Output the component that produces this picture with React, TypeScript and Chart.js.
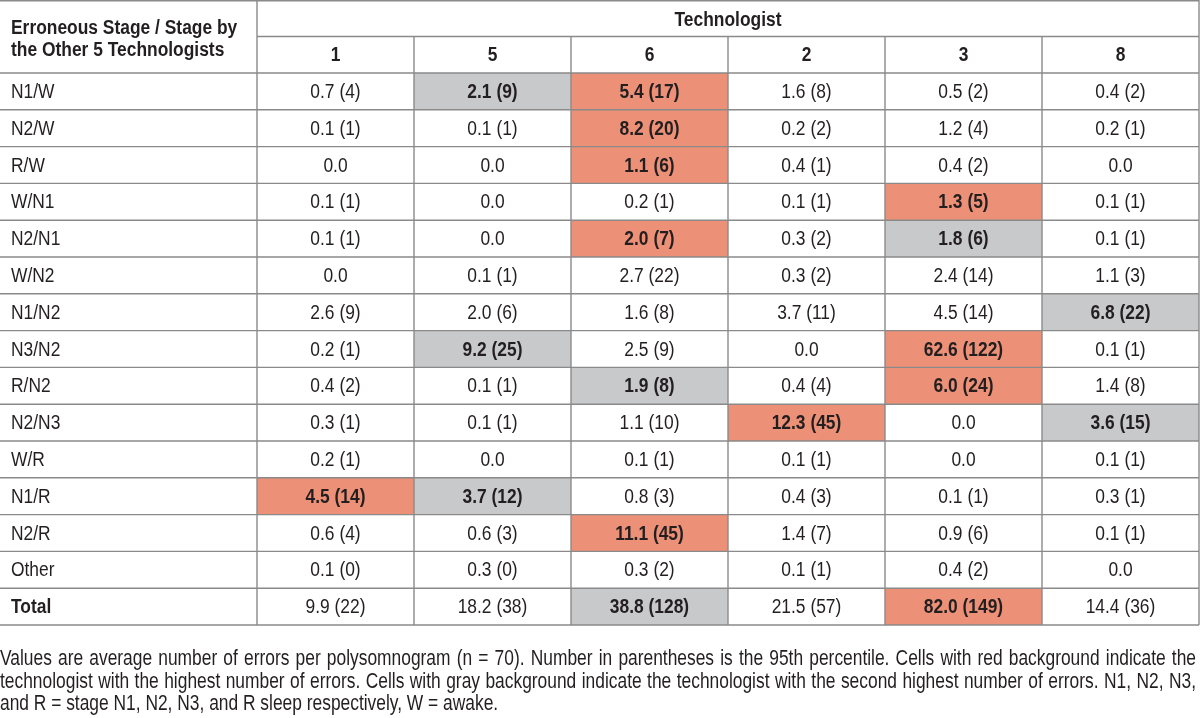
import React, { useEffect, useRef } from "react";
import { Chart, registerables } from "chart.js";

Chart.register(...registerables);

// ---- data ----
const technologists = ["1", "5", "6", "2", "3", "8"];
const stages = [
  "N1/W", "N2/W", "R/W", "W/N1", "N2/N1", "W/N2", "N1/N2", "N3/N2",
  "R/N2", "N2/N3", "W/R", "N1/R", "N2/R", "Other", "Total",
];
const headerTitle = "Technologist";
const stageHeader = ["Erroneous Stage / Stage by", "the Other 5 Technologists"];

// average number of errors per polysomnogram (rows in stage order)
const tech1Mean = [0.7, 0.1, 0.0, 0.1, 0.1, 0.0, 2.6, 0.2, 0.4, 0.3, 0.2, 4.5, 0.6, 0.1, 9.9];
const tech5Mean = [2.1, 0.1, 0.0, 0.0, 0.0, 0.1, 2.0, 9.2, 0.1, 0.1, 0.0, 3.7, 0.6, 0.3, 18.2];
const tech6Mean = [5.4, 8.2, 1.1, 0.2, 2.0, 2.7, 1.6, 2.5, 1.9, 1.1, 0.1, 0.8, 11.1, 0.3, 38.8];
const tech2Mean = [1.6, 0.2, 0.4, 0.1, 0.3, 0.3, 3.7, 0.0, 0.4, 12.3, 0.1, 0.4, 1.4, 0.1, 21.5];
const tech3Mean = [0.5, 1.2, 0.4, 1.3, 1.8, 2.4, 4.5, 62.6, 6.0, 0.0, 0.0, 0.1, 0.9, 0.4, 82.0];
const tech8Mean = [0.4, 0.2, 0.0, 0.1, 0.1, 1.1, 6.8, 0.1, 1.4, 3.6, 0.1, 0.3, 0.1, 0.0, 14.4];

// 95th percentile (null = not shown)
const tech1P95 = [4, 1, null, 1, 1, null, 9, 1, 2, 1, 1, 14, 4, 0, 22];
const tech5P95 = [9, 1, null, null, null, 1, 6, 25, 1, 1, null, 12, 3, 0, 38];
const tech6P95 = [17, 20, 6, 1, 7, 22, 8, 9, 8, 10, 1, 3, 45, 2, 128];
const tech2P95 = [8, 2, 1, 1, 2, 2, 11, null, 4, 45, 1, 3, 7, 1, 57];
const tech3P95 = [2, 4, 2, 5, 6, 14, 14, 122, 24, null, null, 1, 6, 2, 149];
const tech8P95 = [2, 1, null, 1, 1, 3, 22, 1, 8, 15, 1, 1, 1, null, 36];

// highlighted cells: [stage, technologist]
const highestCells: [string, string][] = [
  ["N1/W", "6"], ["N2/W", "6"], ["R/W", "6"], ["W/N1", "3"], ["N2/N1", "6"],
  ["N3/N2", "3"], ["R/N2", "3"], ["N2/N3", "2"], ["N1/R", "1"], ["N2/R", "6"], ["Total", "3"],
];
const secondCells: [string, string][] = [
  ["N1/W", "5"], ["N2/N1", "3"], ["N1/N2", "8"], ["N3/N2", "5"], ["R/N2", "6"],
  ["N2/N3", "8"], ["N1/R", "5"], ["Total", "6"],
];

const footnoteLines = [
  "Values are average number of errors per polysomnogram (n = 70). Number in parentheses is the 95th percentile. Cells with red background indicate the",
  "technologist with the highest number of errors. Cells with gray background indicate the technologist with the second highest number of errors. N1, N2, N3,",
  "and R = stage N1, N2, N3, and R sleep respectively, W = awake.",
];

const means = [tech1Mean, tech5Mean, tech6Mean, tech2Mean, tech3Mean, tech8Mean];
const p95s = [tech1P95, tech5P95, tech6P95, tech2P95, tech3P95, tech8P95];

// ---- styles ----
const RED = "#EC9177";
const GRAY = "#C8C9CB";
const LINE = "#8a8a8a";
const TEXT = "#231F20";
const FONT_SIZE = 20;
const NOTE_SIZE = 22;

function pickFont(ctx: CanvasRenderingContext2D) {
  const s = "Technologist abc 0123 (45)";
  ctx.font = `${FONT_SIZE}px serif`;
  const a = ctx.measureText(s).width;
  ctx.font = `${FONT_SIZE}px 'Liberation Sans Narrow', serif`;
  const b = ctx.measureText(s).width;
  if (Math.abs(a - b) > 0.5) return { family: "'Liberation Sans Narrow'", sx: 1.065, nsx: 0.96 };
  return { family: "'Liberation Sans'", sx: 0.87, nsx: 0.79 };
}

const tablePlugin = {
  id: "tablePlugin",
  afterDraw(chart: any) {
    const ctx: CanvasRenderingContext2D = chart.ctx;
    const xs = chart.scales.x;
    const ys = chart.scales.y;
    const area = chart.chartArea;
    const font = pickFont(ctx);
    const colW = (area.right - area.left) / technologists.length;
    const rowH = (area.bottom - area.top) / stages.length;
    const headerMid = area.top / 2;

    const setFont = (bold: boolean, size: number) => {
      ctx.font = `${bold ? "bold " : ""}${size}px ${font.family}, sans-serif`;
    };

    const text = (
      t: string, x: number, y: number, align: CanvasTextAlign, bold: boolean,
      size = FONT_SIZE, sx = font.sx,
    ) => {
      ctx.save();
      setFont(bold, size);
      ctx.fillStyle = TEXT;
      ctx.textAlign = align;
      ctx.textBaseline = "middle";
      ctx.translate(x, y);
      ctx.scale(sx, 1);
      ctx.fillText(t, 0, 0);
      ctx.restore();
    };

    const justified = (t: string, x0: number, x1: number, y: number) => {
      const words = t.split(" ");
      ctx.save();
      setFont(false, NOTE_SIZE);
      const widths = words.map((w) => ctx.measureText(w).width * font.nsx);
      ctx.restore();
      const total = widths.reduce((a, b) => a + b, 0);
      const gap = (x1 - x0 - total) / (words.length - 1);
      let x = x0;
      words.forEach((w, i) => {
        text(w, x, y, "left", false, NOTE_SIZE, font.nsx);
        x += widths[i] + gap;
      });
    };

    const isIn = (list: [string, string][], s: string, t: string) =>
      list.some(([a, b]) => a === s && b === t);

    ctx.save();
    // cell fills
    stages.forEach((s, r) => {
      technologists.forEach((t, c) => {
        let fill: string | null = null;
        if (isIn(highestCells, s, t)) fill = RED;
        else if (isIn(secondCells, s, t)) fill = GRAY;
        if (fill) {
          const cx = xs.getPixelForValue(c);
          const cy = ys.getPixelForValue(r);
          ctx.fillStyle = fill;
          ctx.fillRect(cx - colW / 2, cy - rowH / 2, colW, rowH);
        }
      });
    });

    // grid lines
    ctx.strokeStyle = LINE;
    ctx.lineWidth = 1.4;
    const hline = (y: number, x0: number, x1: number) => {
      ctx.beginPath(); ctx.moveTo(x0, y); ctx.lineTo(x1, y); ctx.stroke();
    };
    const vline = (x: number, y0: number, y1: number) => {
      ctx.beginPath(); ctx.moveTo(x, y0); ctx.lineTo(x, y1); ctx.stroke();
    };
    hline(0.7, 0, area.right);
    hline(headerMid, area.left, area.right);
    for (let r = 0; r <= stages.length; r++) {
      hline(area.top + r * rowH, 0, area.right);
    }
    vline(area.left, 0, area.bottom);
    vline(area.right, 0, area.bottom);
    for (let c = 1; c < technologists.length; c++) {
      vline(area.left + c * colW, headerMid, area.bottom);
    }

    // header texts
    text(headerTitle, (area.left + area.right) / 2, headerMid / 2 + 2, "center", true);
    technologists.forEach((t, c) => {
      text(t, xs.getPixelForValue(c), (headerMid + area.top) / 2 + 1, "center", true);
    });
    text(stageHeader[0], 11, area.top / 2 - 8, "left", true);
    text(stageHeader[1], 11, area.top / 2 + 14, "left", true);

    // rows
    stages.forEach((s, r) => {
      const cy = ys.getPixelForValue(r) + 1;
      text(s, 11, cy, "left", s === "Total");
      technologists.forEach((t, c) => {
        const m = means[c][r];
        const p = p95s[c][r];
        const label = m.toFixed(1) + (p !== null ? ` (${p})` : "");
        const bold = isIn(highestCells, s, t) || isIn(secondCells, s, t);
        text(label, xs.getPixelForValue(c), cy, "center", bold);
      });
    });

    // footnote (justified except the last line)
    footnoteLines.forEach((l, i) => {
      const y = area.bottom + 34 + i * 22.5;
      if (i < footnoteLines.length - 1) justified(l, 0, area.right - 3, y);
      else text(l, 0, y, "left", false, NOTE_SIZE, font.nsx);
    });
    ctx.restore();
  },
};

export default function App() {
  const ref = useRef<HTMLCanvasElement | null>(null);
  useEffect(() => {
    document.body.style.margin = "0";
    if (!ref.current) return;
    const chart = new Chart(ref.current, {
      type: "scatter",
      data: {
        datasets: [
          {
            data: [],
            pointRadius: 0,
          },
        ],
      },
      options: {
        animation: false,
        responsive: false,
        events: [],
        layout: { padding: { left: 257, top: 73, right: 1, bottom: 93 } },
        plugins: { legend: { display: false }, tooltip: { enabled: false } },
        scales: {
          x: { type: "category", labels: technologists, offset: true, display: false },
          y: { type: "category", labels: stages, offset: true, display: false },
        },
      },
      plugins: [tablePlugin],
    });
    return () => chart.destroy();
  }, []);
  return <canvas ref={ref} width={1200} height={718} style={{ display: "block" }} />;
}
